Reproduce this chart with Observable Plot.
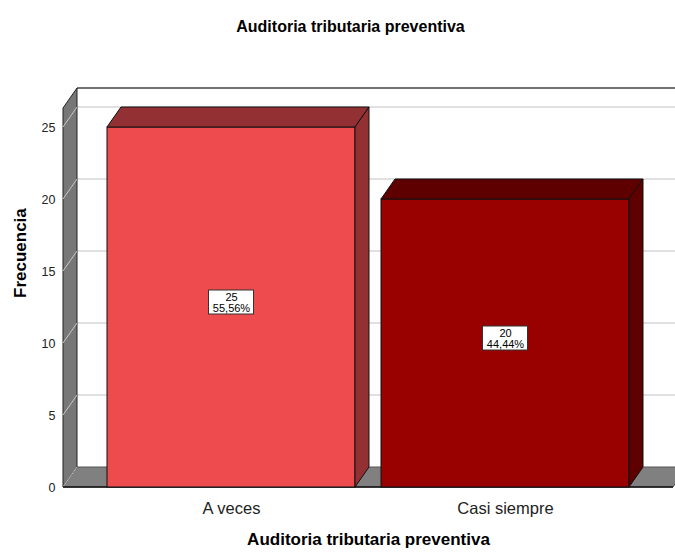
<!DOCTYPE html>
<html><head><meta charset="utf-8">
<script src="https://cdn.jsdelivr.net/npm/d3@7"></script>
<script src="https://cdn.jsdelivr.net/npm/@observablehq/plot@0.6"></script>
<style>body{margin:0;background:#fff;} svg{display:block;}</style>
</head><body><div id="chart"></div>
<script>
const categories = ["A veces", "Casi siempre"];
const frequencies = [25, 20];
const yTicks = [0, 5, 10, 15, 20, 25];
const frontColors = ["#ED4B4E", "#990000"];
const sideColors = ["#933033", "#5E0000"];
const chartTitle = "Auditoria tributaria preventiva";
const xLabel = "Auditoria tributaria preventiva";
const yLabel = "Frecuencia";

const total = d3.sum(frequencies);
const data = categories.map((c, i) => ({
  category: c,
  value: frequencies[i],
  pct: (frequencies[i] / total * 100).toFixed(2).replace(".", ",") + "%",
  front: frontColors[i],
  side: sideColors[i]
}));

const DX = 14, DY = -20; // 3D depth offset in pixels
const FONT = "'Liberation Sans', Arial, sans-serif";
const NS = "http://www.w3.org/2000/svg";
function el(tag, attrs) {
  const e = document.createElementNS(NS, tag);
  for (const k in attrs) e.setAttribute(k, attrs[k]);
  return e;
}
const pts = a => a.map(p => p.join(",")).join(" ");

// walls, floor and gridlines
function scene(index, scales, values, dims) {
  const {y} = scales;
  const g = el("g", {});
  const left = dims.marginLeft, right = dims.width - dims.marginRight;
  const y0 = y(0), yTop = dims.marginTop;
  g.appendChild(el("line", {x1: left + DX, y1: yTop + DY, x2: right + DX + 20, y2: yTop + DY, stroke: "#444", "stroke-width": 1.5}));
  for (const v of yTicks) {
    if (v === 0) continue;
    g.appendChild(el("line", {x1: left + DX, y1: y(v) + DY, x2: right + DX + 20, y2: y(v) + DY, stroke: "#d6d6d6", "stroke-width": 1.5}));
  }
  g.appendChild(el("polygon", {points: pts([[left, y0], [left + DX, y0 + DY], [right + DX, y0 + DY], [right, y0]]), fill: "#808080", stroke: "#555", "stroke-width": 1}));
  g.appendChild(el("polygon", {points: pts([[left, y0], [left, yTop], [left + DX, yTop + DY], [left + DX, y0 + DY]]), fill: "#777777", stroke: "#222", "stroke-width": 1}));
  for (const v of yTicks) {
    g.appendChild(el("line", {x1: left, y1: y(v), x2: left + DX, y2: y(v) + DY, stroke: "#c8c8c8", "stroke-width": 1}));
  }
  g.appendChild(el("line", {x1: left, y1: y0, x2: right, y2: y0, stroke: "#111", "stroke-width": 1.5}));
  return g;
}

// top and side faces of the bars plus label boxes
function faces(index, scales, values, dims) {
  const {x, y} = scales;
  const bw = x.bandwidth();
  const g = el("g", {});
  for (const d of data) {
    const x0 = x(d.category), x1 = x0 + bw, yt = y(d.value), yb = y(0);
    g.appendChild(el("polygon", {points: pts([[x0, yt], [x0 + DX, yt + DY], [x1 + DX, yt + DY], [x1, yt]]), fill: d.side, stroke: "#111", "stroke-width": 1}));
    g.appendChild(el("polygon", {points: pts([[x1, yt], [x1 + DX, yt + DY], [x1 + DX, yb + DY], [x1, yb]]), fill: d.side, stroke: "#111", "stroke-width": 1}));
    const cx = x0 + bw / 2, cy = y(d.value / 2) - 5;
    g.appendChild(el("rect", {x: cx - 22.5, y: cy - 12, width: 45, height: 24, fill: "#fff", stroke: "#333", "stroke-width": 1}));
  }
  return g;
}

const chart = Plot.plot({
  width: 675,
  height: 554,
  marginLeft: 63,
  marginRight: 2,
  marginTop: 108,
  marginBottom: 67,
  style: {fontFamily: FONT, background: "#fff", overflow: "visible"},
  x: {type: "band", domain: categories, paddingInner: 0.095, paddingOuter: 0.16, align: 0.5, axis: null},
  y: {domain: [0, 26.32], axis: null},
  marks: [
    scene,
    Plot.barY(data, {x: "category", y: "value", fill: "front", stroke: "#111", strokeWidth: 1}),
    faces,
    Plot.text(data, {x: "category", y: d => d.value / 2, dy: -5, text: d => `${d.value}\n${d.pct}`, fontSize: 11, lineHeight: 1.0, fill: "#000"}),
    Plot.axisY(yTicks, {tickSize: 0, tickPadding: 8, fontSize: 12.5, label: null, fill: "#222"}),
    Plot.axisX({tickSize: 0, tickPadding: 15, fontSize: 16.5, label: null, fill: "#222"}),
    Plot.text([yLabel], {frameAnchor: "left", dx: -43, rotate: -90, fontSize: 17, fontWeight: "bold", fill: "#000"}),
    Plot.text([xLabel], {frameAnchor: "bottom", dy: 57, fontSize: 17, fontWeight: "bold", fill: "#000"}),
    Plot.text([chartTitle], {frameAnchor: "top", dx: -18, dy: -88, fontSize: 16, fontWeight: "bold", fill: "#000"})
  ]
});
document.getElementById("chart").appendChild(chart);
</script>
</body></html>
